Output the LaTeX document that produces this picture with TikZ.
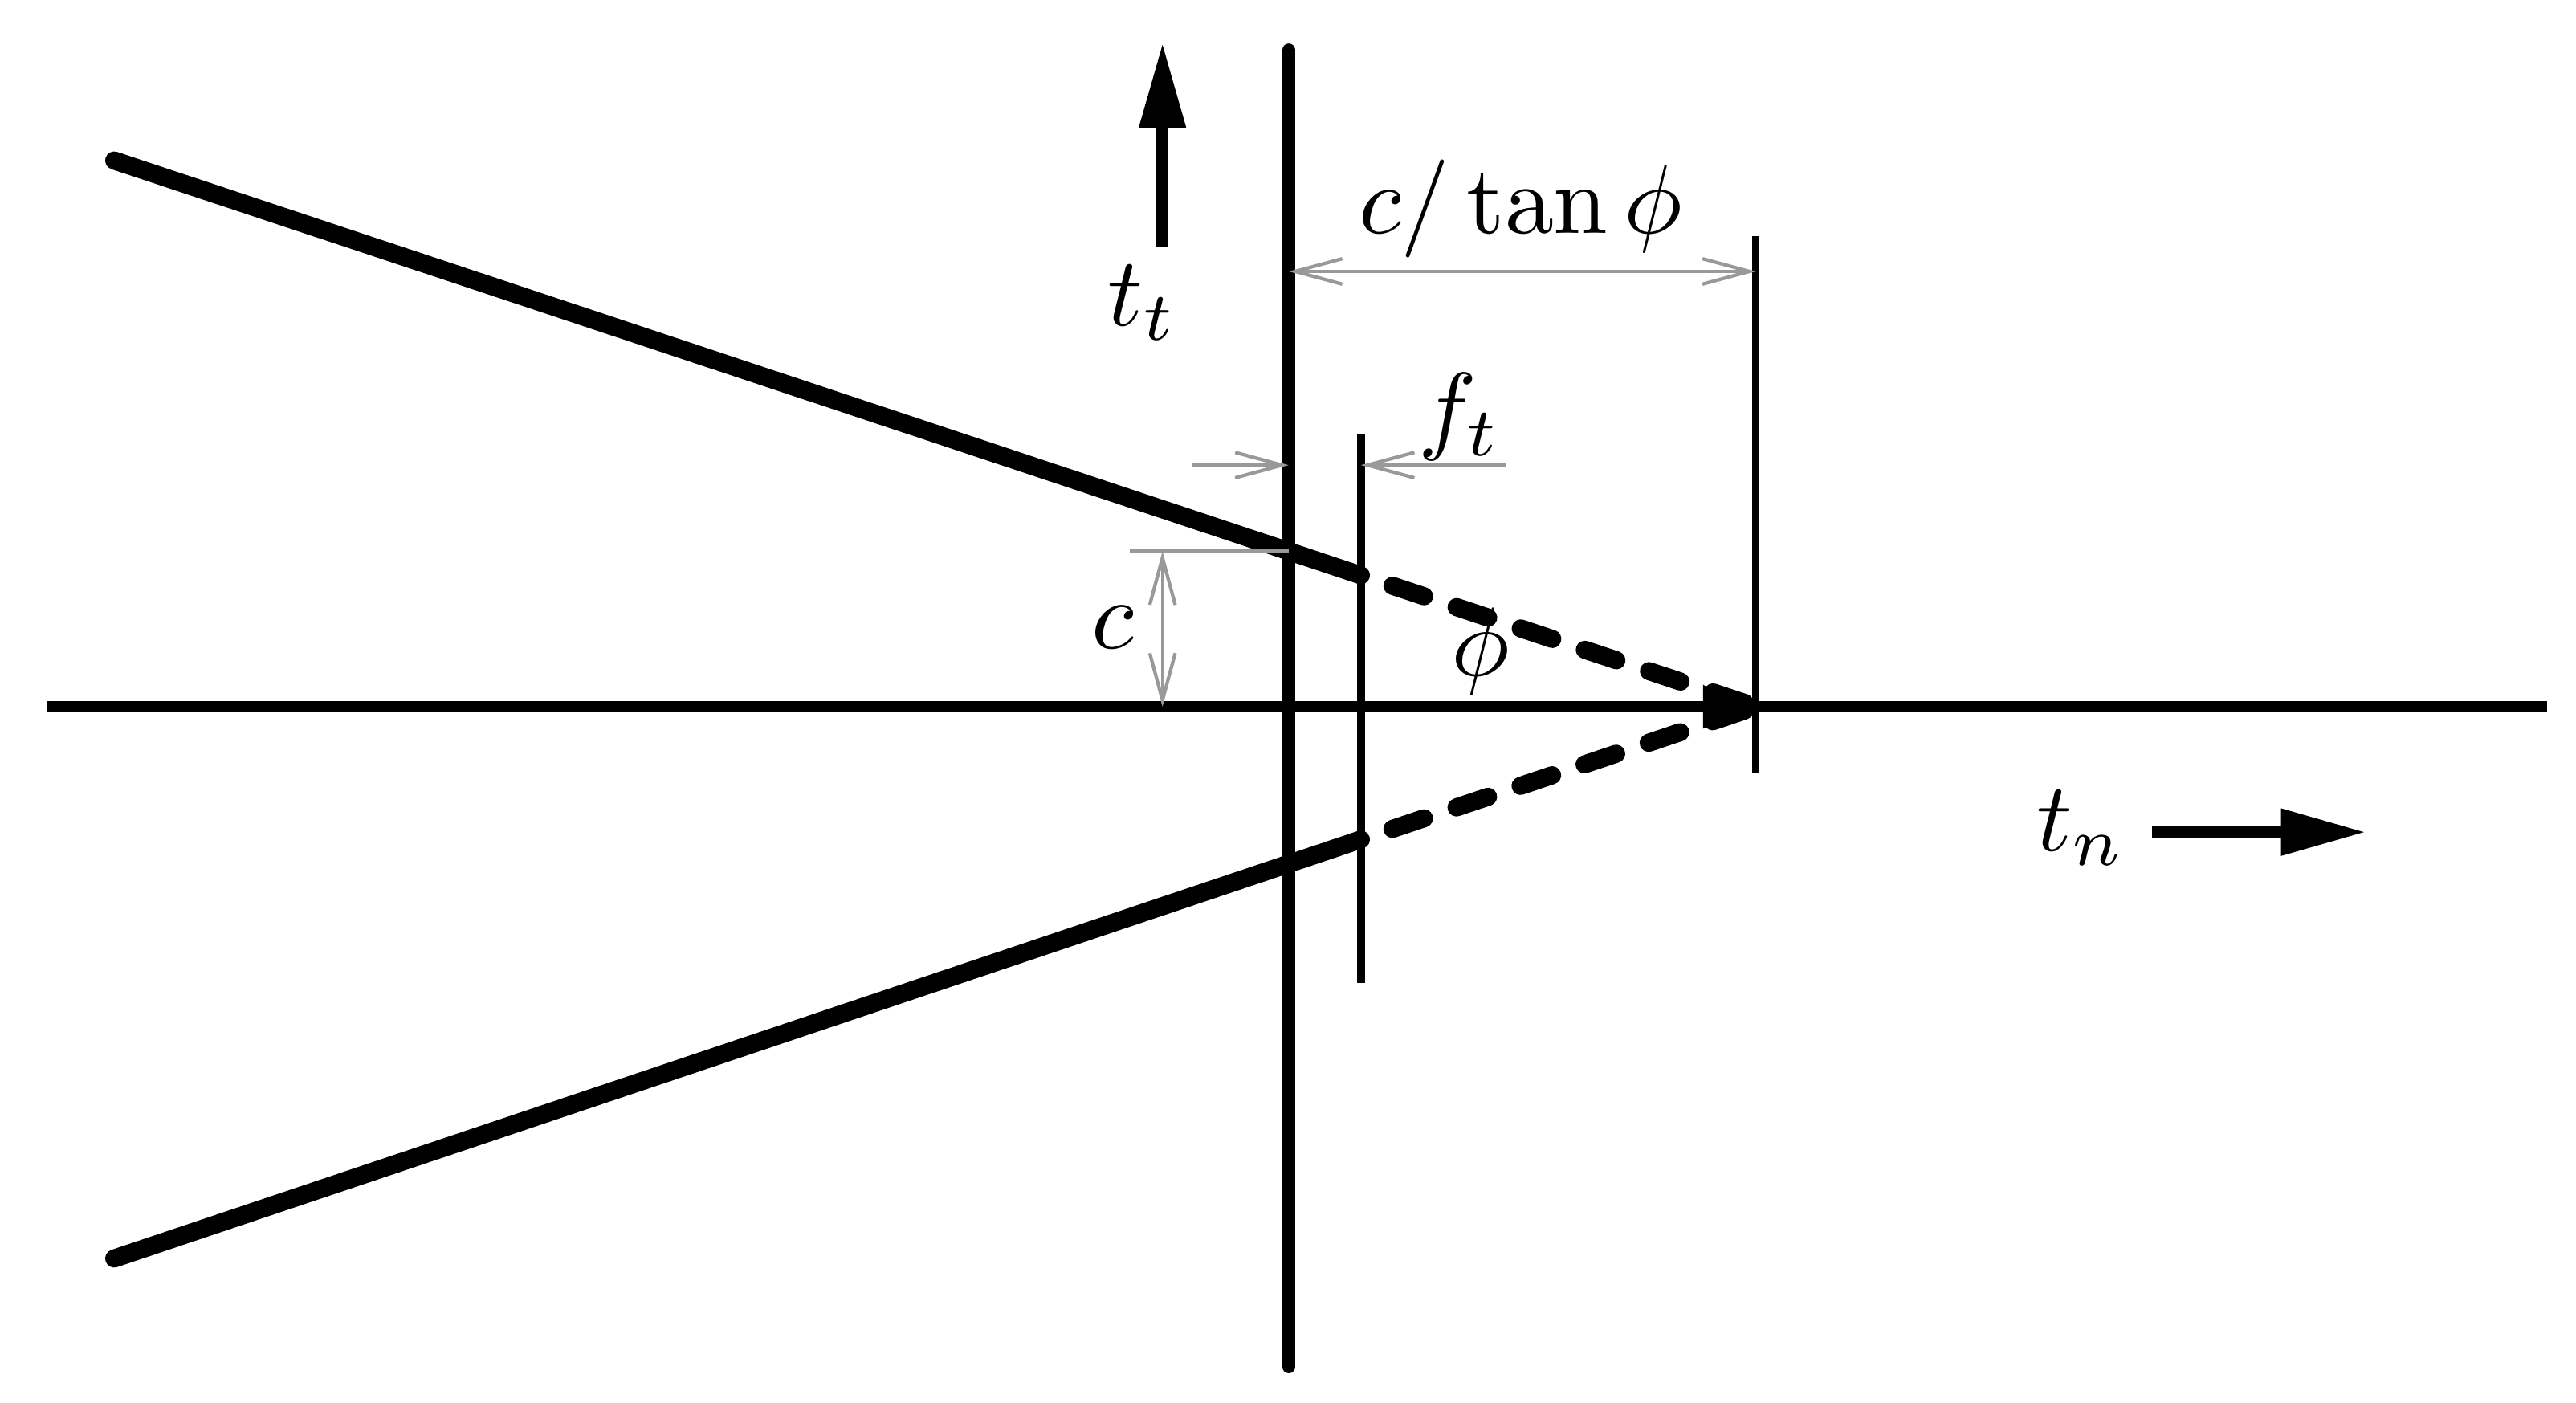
\documentclass[tikz,border=0pt]{standalone}
\usepackage{amsmath}
\usepackage{amssymb}
\usetikzlibrary{arrows.meta,calc}

\begin{document}
\begin{tikzpicture}[wall/.style={line width=1.85pt,line cap=round},
    wallgap/.style={line width=1.85pt,line cap=round,dash pattern=on 3.4pt off 3.5pt,dash phase=3.5pt},
    dim/.style={draw=gray!80,line width=0.35pt,>={Straight Barb[length=4.8pt,width=2.6pt]}},
    force/.style={line width=1.2pt,-{Triangle[length=8.7pt,width=4.5pt]}}]
  \useasboundingbox (-4.625,-2.496) rectangle (4.620,2.536);
  % axis and the three vertical lines
  \coordinate (axl) at (-4.458,0);
  \coordinate (axr) at (4.516,0);
  \coordinate (apex) at (1.677,0);
  \coordinate (v1top) at (0,2.357);
  \coordinate (v1bot) at (0,-2.369);
  \coordinate (v2top) at (0.259,0.98);
  \coordinate (v2bot) at (0.259,-0.99);
  \coordinate (v3top) at (1.677,1.689);
  \coordinate (v3bot) at (1.677,-0.236);
  \draw[line width=1.1pt,-{Latex[length=5.4pt,width=4.6pt]}] (axl) -- (apex);
  \draw[line width=1.1pt] (apex) -- (axr);
  \draw[line width=1.3pt,line cap=round] (v1top) -- (v1bot);
  \draw[line width=0.85pt] (v2top) -- (v2bot);
  \draw[line width=0.75pt] (v3top) -- (v3bot);
  % the two slanted lines
  \coordinate (up) at (-4.215,1.96);
  \coordinate (low) at (-4.215,-1.98);
  \coordinate (upend) at (intersection of up--apex and v2top--v2bot);
  \coordinate (lowend) at (intersection of low--apex and v2top--v2bot);
  \coordinate (cpt) at (intersection of up--apex and v1top--v1bot);
  \draw[wall] (up) -- (upend);
  \draw[wall] (low) -- (lowend);
  \draw[wallgap] (upend) -- (apex);
  \draw[wallgap] (lowend) -- (apex);
  % dimensions
  \coordinate (cext) at ($(cpt)+(-0.57,0)$);
  \coordinate (cbase) at (-0.453,0);
  \draw[dim] (cext) -- (cpt);
  \draw[dim,<->] (cbase) -- (cbase |- cpt);
  \coordinate (ctl) at (0,1.562);
  \draw[dim,<->] (ctl) -- (ctl -| v3top);
  \coordinate (ftl) at (-0.346,0.867);
  \coordinate (ftr) at (0.78,0.867);
  \draw[dim,->] (ftl) -- (ftl -| v1top);
  \draw[dim,->] (ftr) -- (ftr -| v2top);
  % labels
  \node (ctan) at (0.833,1.787) {$c/\tan\phi$};
  \node (ft) at (0.615,1.04) {$f_t$};
  \node (c) at (-0.631,0.285) {$c$};
  \node (phi) at (0.69,0.20) {$\phi$};
  \node (tt) at (-0.524,1.45) {$t_t$};
  \node (tn) at (2.845,-0.435) {$t_n$};
  % load directions
  \coordinate (ttfoot) at (-0.453,1.648);
  \coordinate (tthead) at (-0.453,2.383);
  \coordinate (tnfoot) at (3.098,-0.450);
  \coordinate (tnhead) at (3.867,-0.450);
  \draw[force] (ttfoot) -- (tthead);
  \draw[force] (tnfoot) -- (tnhead);
\end{tikzpicture}
\end{document}
